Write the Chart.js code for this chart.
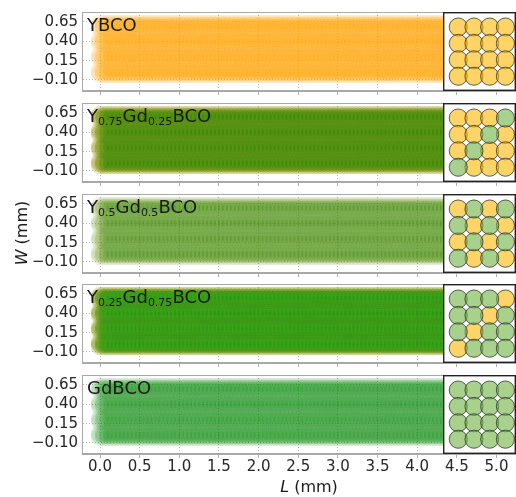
<!DOCTYPE html>
<html>
<head>
<meta charset="utf-8">
<script src="https://cdn.jsdelivr.net/npm/chart.js@4.4.1/dist/chart.umd.min.js"></script>
<style>
  html, body { margin: 0; padding: 0; background: #fff; }
  #figure {
    position: relative; width: 516px; height: 497px; overflow: hidden;
    font-family: 'DejaVu Sans', sans-serif; color: #1a1a1a;
  }
  #figure canvas { position: absolute; }
  .panel-label { position: absolute; left: 87px; font-size: 18px; line-height: 18px; white-space: nowrap; }
  .panel-label sub { font-size: 11px; vertical-align: -3px; line-height: 0; }
  .axis-title { position: absolute; font-size: 16px; line-height: 16px; white-space: nowrap; }
</style>
</head>
<body>
<div id="figure"></div>
<script>
// --- data -------------------------------------------------------------
const PANEL_LABELS = [
    'YBCO',
    'Y<sub>0.75</sub>Gd<sub>0.25</sub>BCO',
    'Y<sub>0.5</sub>Gd<sub>0.5</sub>BCO',
    'Y<sub>0.25</sub>Gd<sub>0.75</sub>BCO',
    'GdBCO'
];

// grain arrangement seen in each inset, rows top -> bottom (Y = yttrium, G = gadolinium)
const GRAIN_MAPS = [
    ['YYYY', 'YYYY', 'YYYY', 'YYYY'],
    ['YYYG', 'YYGY', 'YGYY', 'GYYY'],
    ['YGYG', 'GYGY', 'YGYG', 'GYGY'],
    ['GGGY', 'GGYG', 'GYGG', 'YGGG'],
    ['GGGG', 'GGGG', 'GGGG', 'GGGG']
];

const GRAIN_X = [0.0, 0.2, 0.4, 0.6];   // mm, column centres (inset)
const GRAIN_Y = [0.6, 0.4, 0.2, 0.0];   // mm, row centres
const GRAIN_R = 0.115;                  // mm

// sampled positions along L (mm) and small offsets across W (mm) of the grain rows
const SCAN_X = [0.00, 0.05, 0.10, 0.15, 0.20, 0.25, 0.30, 0.35, 0.40, 0.45, 0.50, 0.55, 0.60,
    0.65, 0.70, 0.75, 0.80, 0.85, 0.90, 0.95, 1.00, 1.05, 1.10, 1.15, 1.20, 1.25, 1.30, 1.35,
    1.40, 1.45, 1.50, 1.55, 1.60, 1.65, 1.70, 1.75, 1.80, 1.85, 1.90, 1.95, 2.00, 2.05, 2.10,
    2.15, 2.20, 2.25, 2.30, 2.35, 2.40, 2.45, 2.50, 2.55, 2.60, 2.65, 2.70, 2.75, 2.80, 2.85,
    2.90, 2.95, 3.00, 3.05, 3.10, 3.15, 3.20, 3.25, 3.30, 3.35, 3.40, 3.45, 3.50, 3.55, 3.60,
    3.65, 3.70, 3.75, 3.80, 3.85, 3.90, 3.95, 4.00, 4.05, 4.10, 4.15, 4.20, 4.25, 4.30, 4.35,
    4.40];
const SCAN_Y = [-0.025, 0.0, 0.025];

const X_TICKS = [0.0, 0.5, 1.0, 1.5, 2.0, 2.5, 3.0, 3.5, 4.0, 4.5, 5.0];
const X_TICK_LABELS = ['0.0', '0.5', '1.0', '1.5', '2.0', '2.5', '3.0', '3.5', '4.0', '4.5', '5.0'];
const Y_TICKS = [-0.10, 0.15, 0.40, 0.65];
const Y_TICK_LABELS = ['\u22120.10', '0.15', '0.40', '0.65'];

// --- layout / style ----------------------------------------------------
const FIG_W = 516;
const PANEL_TOP = [12, 103, 194, 284, 375];
const PANEL_H = 79;
const AXIS_W = 82;
const INSET_LEFT = 443;
const X_RANGE = [-0.227, 5.246];
const Y_RANGE = [-0.243, 0.779];
const INSET_X_RANGE = [-0.194, 0.735];
const INSET_Y_RANGE = [-0.18, 0.783];

const BAND_RGB = { Y: '255, 165, 0', G: '0, 128, 0' };
// per-circle opacity of the band, tuned per panel
const BAND_ALPHA = [
    { Y: 0.037, G: 0 },
    { Y: 0.055, G: 0.085 },
    { Y: 0.026, G: 0.03 },
    { Y: 0.168, G: 0.042 },
    { Y: 0, G: 0.028 }
];
const INSET_FILL = { Y: 'rgba(252, 183, 2, 0.6)', G: 'rgba(112, 178, 67, 0.6)' };
const FONT = "'DejaVu Sans', sans-serif";

// grain radius in pixels for a plot of the given pixel width and x range
function grainRadiusPx(widthPx, range) {
    return GRAIN_R * widthPx / (range[1] - range[0]);
}

// band: every grain of a row is sampled at every position along L
function bandPoints(map, letter) {
    const pts = [];
    SCAN_X.forEach(x => {
        SCAN_Y.forEach(dy => {
            map.forEach((row, r) => {
                row.split('').forEach(g => {
                    if (g === letter) pts.push({ x: x, y: GRAIN_Y[r] + dy });
                });
            });
        });
    });
    return pts;
}

function insetPoints(map, letter) {
    const pts = [];
    map.forEach((row, r) => {
        row.split('').forEach((g, c) => {
            if (g === letter) pts.push({ x: GRAIN_X[c], y: GRAIN_Y[r] });
        });
    });
    return pts;
}

const panelFrame = {
    id: 'panelFrame',
    afterDraw(chart, args, opts) {
        const { ctx, chartArea: a } = chart;
        ctx.save();
        ctx.strokeStyle = opts.color;
        ctx.lineWidth = opts.width;
        const h = opts.width / 2;
        ctx.strokeRect(a.left + h, a.top + h, a.right - a.left - 2 * h, a.bottom - a.top - 2 * h);
        ctx.restore();
    }
};

class GrainPanel {
    constructor(root, index) {
        this.root = root;
        this.index = index;
        this.map = GRAIN_MAPS[index];
        this.isLast = index === GRAIN_MAPS.length - 1;
    }

    makeCanvas(left, top, width, height) {
        const canvas = document.createElement('canvas');
        canvas.width = width;
        canvas.height = height;
        canvas.style.left = left + 'px';
        canvas.style.top = top + 'px';
        canvas.style.width = width + 'px';
        canvas.style.height = height + 'px';
        this.root.appendChild(canvas);
        return canvas;
    }

    renderBand() {
        const axisH = this.isLast ? 28 : 6;
        const canvas = this.makeCanvas(0, PANEL_TOP[this.index] - 2, FIG_W, PANEL_H + 2 + axisH);
        const alpha = BAND_ALPHA[this.index];
        const r = grainRadiusPx(FIG_W - AXIS_W, X_RANGE);
        const datasets = ['G', 'Y']
            .filter(k => alpha[k] > 0)
            .map(k => ({
                label: k,
                data: bandPoints(this.map, k),
                backgroundColor: `rgba(${BAND_RGB[k]}, ${alpha[k]})`,
                borderWidth: 0,
                radius: r,
                hoverRadius: 0
            }));

        const gridColor = 'rgba(110, 110, 110, 0.6)';
        this.chart = new Chart(canvas.getContext('2d'), {
            type: 'bubble',
            data: { datasets },
            options: {
                responsive: false,
                animation: false,
                events: [],
                layout: { autoPadding: false, padding: { top: 2, left: 0, right: 0, bottom: 0 } },
                plugins: {
                    legend: { display: false },
                    tooltip: { enabled: false },
                    panelFrame: { color: '#a8a8a8', width: 1 }
                },
                scales: {
                    x: {
                        type: 'linear',
                        min: X_RANGE[0],
                        max: X_RANGE[1],
                        z: 1,
                        afterBuildTicks: s => { s.ticks = X_TICKS.map(v => ({ value: v })); },
                        afterFit: s => { s.height = axisH; s.paddingLeft = 0; s.paddingRight = 0; },
                        ticks: {
                            display: this.isLast,
                            autoSkip: false,
                            maxRotation: 0,
                            padding: 0,
                            color: '#262626',
                            font: { family: FONT, size: 15 },
                            callback: (v, i) => X_TICK_LABELS[i]
                        },
                        grid: { color: gridColor, lineWidth: 0.8, tickLength: 4, tickColor: '#9a9a9a' },
                        border: { display: true, color: '#a8a8a8', width: 1, dash: [1, 2] }
                    },
                    y: {
                        type: 'linear',
                        min: Y_RANGE[0],
                        max: Y_RANGE[1],
                        z: 1,
                        afterBuildTicks: s => { s.ticks = Y_TICKS.map(v => ({ value: v })); },
                        afterFit: s => { s.width = AXIS_W; s.paddingTop = 0; s.paddingBottom = 0; },
                        ticks: {
                            padding: 4,
                            color: '#262626',
                            font: { family: FONT, size: 15 },
                            callback: (v, i) => Y_TICK_LABELS[i]
                        },
                        grid: { color: gridColor, lineWidth: 0.8, drawTicks: false },
                        border: { display: true, color: '#a8a8a8', width: 1, dash: [1, 2] }
                    }
                }
            },
            plugins: [panelFrame]
        });
    }

    renderInset() {
        const top = PANEL_TOP[this.index];
        const width = FIG_W - INSET_LEFT;
        const canvas = this.makeCanvas(INSET_LEFT, top, width, PANEL_H);
        canvas.style.background = '#fff';
        const r = grainRadiusPx(width, INSET_X_RANGE);
        const datasets = ['G', 'Y'].map(k => ({
            label: k,
            data: insetPoints(this.map, k),
            backgroundColor: INSET_FILL[k],
            borderColor: 'rgba(40, 40, 40, 0.75)',
            borderWidth: 1,
            radius: r,
            hoverRadius: 0
        }));

        this.inset = new Chart(canvas.getContext('2d'), {
            type: 'bubble',
            data: { datasets },
            options: {
                responsive: false,
                animation: false,
                events: [],
                layout: { autoPadding: false, padding: 0 },
                plugins: {
                    legend: { display: false },
                    tooltip: { enabled: false },
                    panelFrame: { color: '#222', width: 1.4 }
                },
                scales: {
                    x: { type: 'linear', display: false, min: INSET_X_RANGE[0], max: INSET_X_RANGE[1] },
                    y: { type: 'linear', display: false, min: INSET_Y_RANGE[0], max: INSET_Y_RANGE[1] }
                }
            },
            plugins: [panelFrame]
        });
    }

    renderLabel() {
        const div = document.createElement('div');
        div.className = 'panel-label';
        div.style.top = (PANEL_TOP[this.index] + 4) + 'px';
        div.innerHTML = PANEL_LABELS[this.index];
        this.root.appendChild(div);
    }
}

const figure = document.getElementById('figure');
GRAIN_MAPS.forEach((m, i) => {
    const panel = new GrainPanel(figure, i);
    panel.renderBand();
    panel.renderInset();
    panel.renderLabel();
});

const yTitle = document.createElement('div');
yTitle.className = 'axis-title';
yTitle.style.left = '22px';
yTitle.style.top = '233px';
yTitle.style.transform = 'translate(-50%, -50%) rotate(-90deg)';
yTitle.innerHTML = '<i>W</i> (mm)';
figure.appendChild(yTitle);

const xTitle = document.createElement('div');
xTitle.className = 'axis-title';
xTitle.style.left = '309px';
xTitle.style.top = '487px';
xTitle.style.transform = 'translate(-50%, -50%)';
xTitle.innerHTML = '<i>L</i> (mm)';
figure.appendChild(xTitle);
</script>
</body>
</html>
